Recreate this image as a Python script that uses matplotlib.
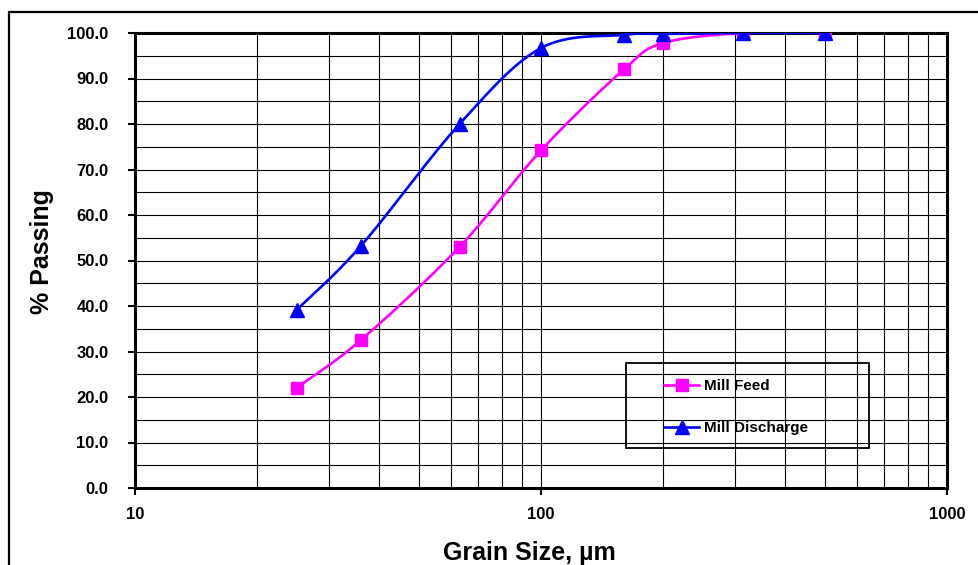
import numpy as np
import matplotlib
matplotlib.use("Agg")
import matplotlib.pyplot as plt
from matplotlib.patches import Rectangle
from matplotlib.ticker import FixedLocator, NullFormatter, FixedFormatter

plt.rcParams['font.family'] = ['Liberation Sans', 'DejaVu Sans']
plt.rcParams['font.weight'] = 'bold'

# Sieve sizes (µm) and cumulative percent passing
sizes = [25, 36, 63, 100, 160, 200, 315, 500]
mill_feed = [22.0, 32.5, 53.0, 74.2, 92.0, 97.8, 100.0, 100.0]
mill_discharge = [39.1, 53.2, 80.0, 96.7, 99.6, 99.8, 100.0, 100.0]

x_ticks = [10, 100, 1000]
x_tick_labels = ["10", "100", "1000"]
y_ticks = [0, 10, 20, 30, 40, 50, 60, 70, 80, 90, 100]

W, H = 979, 565
fig = plt.figure(figsize=(W / 100, H / 100), dpi=100)
ax_l, ax_r, ax_t, ax_b = 135, 947, 33, 488
aw, ah = ax_r - ax_l, ax_b - ax_t
ax = fig.add_axes([ax_l / W, (H - ax_b) / H, aw / W, ah / H])

# outer chart-area border
fig.patches.append(Rectangle((9 / W, -0.1), 1.2, (H - 12) / H + 0.1, transform=fig.transFigure,
                             fill=False, edgecolor='black', linewidth=1.6, zorder=0))


def smooth(xs, ys, n=40):
    """Bezier smoothing in log-x / linear-y space (spreadsheet-style smoothed line)."""
    px = np.log10(np.asarray(xs, float)) * 406.0
    py = np.asarray(ys, float) * 4.55
    P = np.column_stack([px, py])
    out = []
    m = len(P)
    for i in range(m - 1):
        p0 = P[i - 1] if i > 0 else P[i]
        p1, p2 = P[i], P[i + 1]
        p3 = P[i + 2] if i + 2 < m else P[i + 1]
        c1 = p1 + (p2 - p0) / 6.0
        c2 = p2 - (p3 - p1) / 6.0
        t = np.linspace(0, 1, n)[:, None]
        seg = ((1 - t) ** 3) * p1 + 3 * ((1 - t) ** 2) * t * c1 + 3 * (1 - t) * t ** 2 * c2 + t ** 3 * p2
        out.append(seg if i == 0 else seg[1:])
    S = np.vstack(out)
    return 10 ** (S[:, 0] / 406.0), S[:, 1] / 4.55


fx, fy = smooth(sizes, mill_feed)
dx, dy = smooth(sizes, mill_discharge)

pink = '#FF00FF'
blue = '#0000FF'
ax.plot(fx, fy, color=pink, linewidth=1.9, zorder=3)
ax.plot(sizes, mill_feed, linestyle='none', marker='s', markersize=8.5, color=pink, zorder=4)
ax.plot(dx, dy, color=blue, linewidth=1.9, zorder=5)
ax.plot(sizes, mill_discharge, linestyle='none', marker='^', markersize=9.5, color=blue, zorder=6)

# legend proxies
ax.plot([], [], color=pink, marker='s', markersize=8.5, linewidth=1.9, label='Mill Feed')
ax.plot([], [], color=blue, marker='^', markersize=9.5, linewidth=1.9, label='Mill Discharge')

ax.set_xscale('log')
ax.set_xlim(10, 1000)
ax.set_ylim(0, 100)

ax.xaxis.set_major_locator(FixedLocator(x_ticks))
ax.xaxis.set_major_formatter(FixedFormatter(x_tick_labels))
minor_x = [m * d for d in (10, 100) for m in range(2, 10)]
ax.xaxis.set_minor_locator(FixedLocator(minor_x))
ax.xaxis.set_minor_formatter(NullFormatter())
ax.set_yticks(y_ticks)
ax.set_yticklabels([f"{v:.1f}" for v in y_ticks])
ax.yaxis.set_minor_locator(FixedLocator(np.arange(5, 100, 10)))

ax.tick_params(axis='both', which='major', direction='out', length=5, width=1.5,
               labelsize=12, color='black')
ax.tick_params(axis='y', which='major', pad=14)
ax.tick_params(axis='x', which='major', pad=9)
ax.tick_params(which='minor', length=0)

ax.grid(True, which='both', color='black', linewidth=0.8, zorder=1)
ax.set_axisbelow(True)
for s in ax.spines.values():
    s.set_linewidth(2.2)
    s.set_color('black')

ax.set_xlabel('Grain Size, µm', fontsize=18, fontweight='bold')
ax.set_ylabel('% Passing', fontsize=18, fontweight='bold')
ax.xaxis.set_label_coords((529.5 - ax_l) / aw, (ax_b - 553) / ah)
ax.xaxis.label.set_verticalalignment('center')
ax.yaxis.set_label_coords((42 - ax_l) / aw, (ax_b - 251.5) / ah)
ax.yaxis.label.set_verticalalignment('center')

# legend frame and entries
ax.add_patch(Rectangle(((626 - ax_l) / aw, (ax_b - 448) / ah), 243 / aw, 85 / ah,
                       transform=ax.transAxes, fill=False, edgecolor='black', linewidth=1.3, zorder=7))
leg = ax.legend(loc='center left', bbox_to_anchor=((664 - ax_l) / aw, (ax_b - 407) / ah),
                frameon=False, fontsize=11, borderaxespad=0, borderpad=0,
                handlelength=2.3, handletextpad=0.3, labelspacing=1.85)
leg.set_zorder(8)

fig.savefig('out.png', dpi=100)
